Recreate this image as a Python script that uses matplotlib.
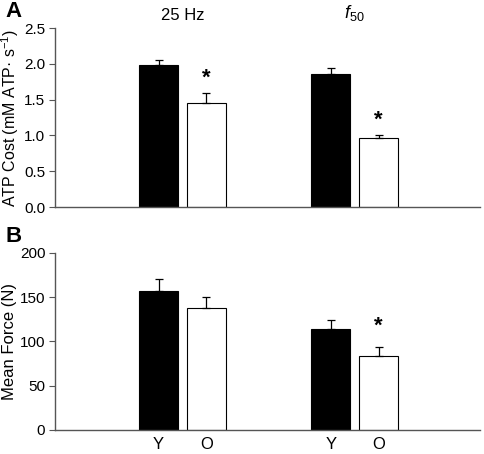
import numpy as np
import matplotlib.pyplot as plt

plt.rcParams['font.family'] = ['Liberation Sans', 'DejaVu Sans']
plt.rcParams['mathtext.fontset'] = 'custom'
plt.rcParams['mathtext.rm'] = 'Liberation Sans'
plt.rcParams['mathtext.it'] = 'Liberation Sans:italic'

# data
groups = ['25 Hz', 'f50']
atp_young = [1.98, 1.86]
atp_young_err = [0.08, 0.08]
atp_old = [1.46, 0.96]
atp_old_err = [0.14, 0.05]
atp_sig = [True, True]

force_young = [157, 114]
force_young_err = [14, 10]
force_old = [138, 84]
force_old_err = [12, 10]
force_sig = [False, True]

tick_labels = ['Y', 'O']

centers = np.array([3.3, 7.76])
off = 0.62
w = 1.0

fig = plt.figure(figsize=(4.84, 4.54), dpi=100)
axA = fig.add_axes([0.1136, 0.544, 0.878, 0.394])
axB = fig.add_axes([0.1136, 0.053, 0.878, 0.390])

def panel(ax, young, yerr, old, oerr, sig, ymax, step, star_pad):
    ax.bar(centers - off, young, w, color='black', edgecolor='black', linewidth=0.8)
    ax.bar(centers + off, old, w, color='white', edgecolor='black', linewidth=0.8)
    ax.errorbar(centers - off, young, yerr=[np.zeros(2), yerr], fmt='none',
                ecolor='black', elinewidth=0.9, capsize=3, capthick=0.9)
    ax.errorbar(centers + off, old, yerr=[np.zeros(2), oerr], fmt='none',
                ecolor='black', elinewidth=0.9, capsize=3, capthick=0.9)
    for i, s in enumerate(sig):
        if s:
            ax.text(centers[i] + off, old[i] + oerr[i] + star_pad, '*',
                    ha='center', va='center', fontsize=16, fontweight='bold')
    ax.set_xlim(0, 11)
    ax.set_ylim(0, ymax)
    ax.set_yticks(np.arange(0, ymax + step / 2, step))
    for s in ['top', 'right']:
        ax.spines[s].set_visible(False)
    for s in ['left', 'bottom']:
        ax.spines[s].set_color('#555555')
        ax.spines[s].set_linewidth(1)
    ax.tick_params(axis='y', direction='out', length=4, labelsize=11, color='#555555', pad=3)

panel(axA, atp_young, atp_young_err, atp_old, atp_old_err, atp_sig, 2.5, 0.5, 0.2)
axA.yaxis.set_major_formatter(plt.FormatStrFormatter('%.1f'))
axA.set_xticks([])
axA.set_ylabel('ATP Cost (mM ATP\u00b7 s$^{-1}$)', fontsize=11.5)
axA.yaxis.set_label_coords(-0.079, 0.5)

panel(axB, force_young, force_young_err, force_old, force_old_err, force_sig, 200, 50, 23)
axB.set_xticks(np.concatenate([centers - off, centers + off]))
axB.set_xticklabels(tick_labels[:1] * 2 + tick_labels[1:] * 2, fontsize=12)
axB.tick_params(axis='x', length=0, pad=5)
axB.set_ylabel('Mean Force (N)', fontsize=12)
axB.yaxis.set_label_coords(-0.09, 0.5)

axA.text(centers[0], 1.03, '25 Hz', transform=axA.get_xaxis_transform(),
         ha='center', va='bottom', fontsize=12)
axA.text(centers[1], 1.03, '$\\mathit{f}_{50}$', transform=axA.get_xaxis_transform(),
         ha='center', va='bottom', fontsize=13)

fig.text(0.012, 0.975, 'A', fontsize=16, fontweight='bold', va='center')
fig.text(0.012, 0.478, 'B', fontsize=16, fontweight='bold', va='center')

fig.savefig('out.png', dpi=100)
